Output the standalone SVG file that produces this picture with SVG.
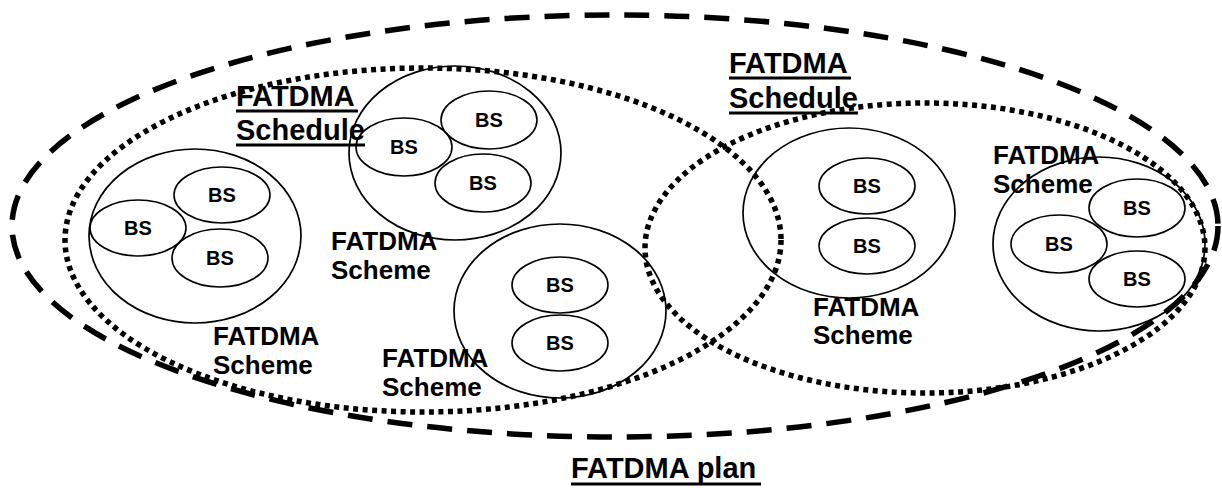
<svg xmlns="http://www.w3.org/2000/svg" width="1222" height="488" viewBox="0 0 1222 488">
<style>
.bg{fill:#fff}
.plan{fill:none;stroke:#000;stroke-width:5.5;stroke-dasharray:25 15}
.sched{fill:none;stroke:#000;stroke-width:5.5;stroke-dasharray:5 4.5}
.scheme{fill:none;stroke:#000;stroke-width:1.7}
.bs{fill:none;stroke:#000;stroke-width:1.6}
.bst{font-family:"Liberation Sans",Arial,sans-serif;font-weight:bold;font-size:20px;text-anchor:middle;fill:#000}
.lbl{font-family:"Liberation Sans",Arial,sans-serif;font-weight:bold;font-size:26px;fill:#000}
.big{font-family:"Liberation Sans",Arial,sans-serif;font-weight:bold;font-size:29px;fill:#000}
.ul{stroke:#000;stroke-width:3}
</style>
<rect class="bg" x="0" y="0" width="1222" height="488"/>
<g id="plan">
<ellipse class="plan" cx="615" cy="226" rx="603" ry="211"/>
<text class="big" x="571" y="478">FATDMA plan</text>
<line class="ul" x1="571" y1="484" x2="761" y2="484"/>
</g>
<g id="schedule-left">
<ellipse class="sched" cx="423" cy="240" rx="358" ry="172"/>
<text class="big" x="236" y="106">FATDMA</text>
<line class="ul" x1="236" y1="111" x2="358" y2="111"/>
<text class="big" x="236" y="140">Schedule</text>
<line class="ul" x1="236" y1="145" x2="365" y2="145"/>
</g>
<g id="schedule-right">
<ellipse class="sched" cx="925" cy="248" rx="280" ry="145"/>
<text class="big" x="729" y="73">FATDMA</text>
<line class="ul" x1="729" y1="78" x2="851" y2="78"/>
<text class="big" x="729" y="108">Schedule</text>
<line class="ul" x1="729" y1="113" x2="858" y2="113"/>
</g>
<g id="scheme1">
<ellipse class="scheme" cx="195" cy="236" rx="106" ry="87"/>
<ellipse class="bs" cx="222" cy="195" rx="48" ry="28"/><text class="bst" x="222" y="202">BS</text>
<ellipse class="bs" cx="138" cy="228" rx="48" ry="28"/><text class="bst" x="138" y="235">BS</text>
<ellipse class="bs" cx="220" cy="258" rx="48" ry="29"/><text class="bst" x="220" y="265">BS</text>
<text class="lbl" x="213" y="345">FATDMA</text>
<text class="lbl" x="213" y="374">Scheme</text>
</g>
<g id="scheme2">
<ellipse class="scheme" cx="455" cy="153" rx="106" ry="87"/>
<ellipse class="bs" cx="489" cy="120" rx="48" ry="29"/><text class="bst" x="489" y="127">BS</text>
<ellipse class="bs" cx="404" cy="147" rx="48" ry="29"/><text class="bst" x="404" y="154">BS</text>
<ellipse class="bs" cx="483" cy="183" rx="48" ry="29"/><text class="bst" x="483" y="190">BS</text>
<text class="lbl" x="331" y="250">FATDMA</text>
<text class="lbl" x="331" y="279">Scheme</text>
</g>
<g id="scheme3">
<ellipse class="scheme" cx="560" cy="311" rx="106" ry="87"/>
<ellipse class="bs" cx="560" cy="285" rx="48" ry="28"/><text class="bst" x="560" y="292">BS</text>
<ellipse class="bs" cx="560" cy="343" rx="48" ry="28"/><text class="bst" x="560" y="350">BS</text>
<text class="lbl" x="382" y="367">FATDMA</text>
<text class="lbl" x="382" y="396">Scheme</text>
</g>
<g id="scheme4">
<ellipse class="scheme" cx="849" cy="213" rx="106" ry="85"/>
<ellipse class="bs" cx="867" cy="186" rx="48" ry="28"/><text class="bst" x="867" y="193">BS</text>
<ellipse class="bs" cx="867" cy="246" rx="48" ry="28"/><text class="bst" x="867" y="253">BS</text>
<text class="lbl" x="813" y="316">FATDMA</text>
<text class="lbl" x="813" y="344">Scheme</text>
</g>
<g id="scheme5">
<ellipse class="scheme" cx="1099" cy="244" rx="106" ry="87"/>
<ellipse class="bs" cx="1137" cy="208" rx="48" ry="29"/><text class="bst" x="1137" y="215">BS</text>
<ellipse class="bs" cx="1059" cy="244" rx="48" ry="29"/><text class="bst" x="1059" y="251">BS</text>
<ellipse class="bs" cx="1137" cy="279" rx="48" ry="28"/><text class="bst" x="1137" y="286">BS</text>
<text class="lbl" x="993" y="164">FATDMA</text>
<text class="lbl" x="993" y="193">Scheme</text>
</g>
<g id="connectors"></g>
</svg>
